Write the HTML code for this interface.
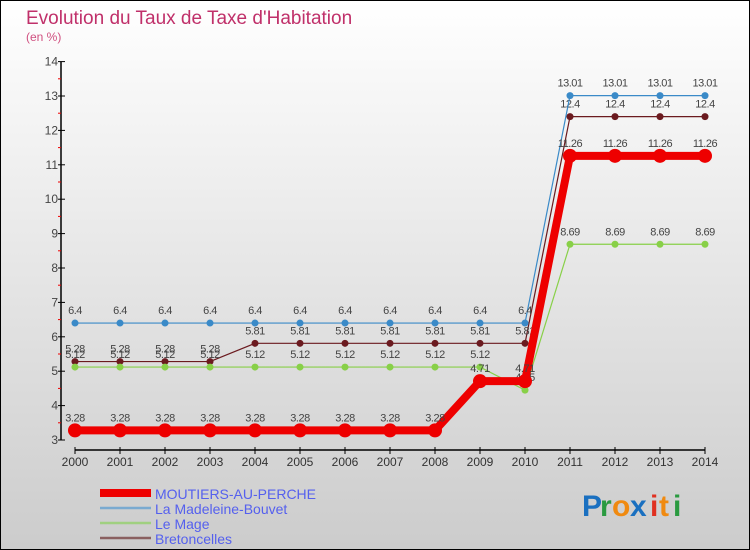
<!DOCTYPE html>
<html><head><meta charset="utf-8"><style>
body{margin:0}
#wrap{width:750px;height:550px;position:relative;overflow:hidden}
svg{display:block}
text{font-family:"Liberation Sans","DejaVu Sans",sans-serif}
</style></head><body>
<div id="wrap">
<svg id="chart" width="750" height="550" xmlns="http://www.w3.org/2000/svg">
<defs><linearGradient id="bg" x1="0" y1="0" x2="0" y2="1">
<stop offset="0" stop-color="#ffffff"/><stop offset="1" stop-color="#cccccc"/></linearGradient></defs>
<rect x="0.5" y="0.5" width="749" height="549" fill="url(#bg)" stroke="#000"/>
<text x="26" y="24" font-size="19" fill="#c0306a">Evolution du Taux de Taxe d'Habitation</text>
<text x="26" y="41" font-size="12" fill="#d05080">(en %)</text>
<g id="axes"></g><g id="series"></g><g id="legend"></g>
<g font-size="30" font-weight="bold" font-family="Liberation Sans,sans-serif">
<text x="582" y="516" fill="#1a70c0">P</text><text x="600" y="516" fill="#2a9a40">r</text><text x="612" y="516" fill="#f08a10">o</text><text x="630" y="516" fill="#1a70c0">x</text><text x="650" y="516" fill="#e03020">i</text><text x="659" y="516" fill="#f08a10">t</text><text x="673" y="516" fill="#2a9a40">i</text></g>
</svg></div>
<script>
const years=[2000,2001,2002,2003,2004,2005,2006,2007,2008,2009,2010,2011,2012,2013,2014];
const moutiers=[3.28,3.28,3.28,3.28,3.28,3.28,3.28,3.28,3.28,4.71,4.71,11.26,11.26,11.26,11.26];
const madeleine=[6.4,6.4,6.4,6.4,6.4,6.4,6.4,6.4,6.4,6.4,6.4,13.01,13.01,13.01,13.01];
const mage=[5.12,5.12,5.12,5.12,5.12,5.12,5.12,5.12,5.12,5.12,4.45,8.69,8.69,8.69,8.69];
const bretoncelles=[5.28,5.28,5.28,5.28,5.81,5.81,5.81,5.81,5.81,5.81,5.81,12.4,12.4,12.4,12.4];
const yTicks=[3,4,5,6,7,8,9,10,11,12,13,14];
const NS="http://www.w3.org/2000/svg";
function x(i){return 75+i*45;}
function y(v){return 440-(v-3)*34.4;}
function mk(tag,attrs,parent){const e=document.createElementNS(NS,tag);for(const k in attrs)e.setAttribute(k,attrs[k]);parent.appendChild(e);return e;}
const axes=document.getElementById('axes');
let l=mk('line',{x1:61,y1:y(14),x2:61,y2:y(3),stroke:'#000','stroke-width':1.5},axes);


yTicks.forEach(v=>{
 mk('line',{x1:58,y1:y(v),x2:65,y2:y(v),stroke:'#000'},axes);
 if(v<14)mk('line',{x1:58,y1:y(v+0.5),x2:61,y2:y(v+0.5),stroke:'#e00'},axes);
 const t=mk('text',{x:58,y:y(v)+4,'font-size':12,fill:'#444','text-anchor':'end'},axes);t.textContent=v;
 
 
});
l=mk('line',{x1:x(0),y1:450,x2:x(14),y2:450,stroke:'#000','stroke-width':1.5},axes);


years.forEach((yr,i)=>{
 mk('line',{x1:x(i),y1:447,x2:x(i),y2:454,stroke:'#000'},axes);
 const t=mk('text',{x:x(i),y:466,'font-size':12,fill:'#333','text-anchor':'middle'},axes);t.textContent=yr;
 
 
});
const series=[
 {name:'Bretoncelles',d:bretoncelles,c:'#6b1a1f',w:1.2,r:3.5,key:'bretoncelles'},
 {name:'Le Mage',d:mage,c:'#88d048',w:1.2,r:3.5,key:'le-mage'},
 {name:'La Madeleine-Bouvet',d:madeleine,c:'#3a8ac8',w:1.2,r:3.5,key:'la-madeleine-bouvet'},
 {name:'MOUTIERS-AU-PERCHE',d:moutiers,c:'#ee0000',w:8,r:7,key:'moutiers-au-perche'}];
const sg=document.getElementById('series');
series.forEach(s=>{
 const g=mk('g',{},sg);
 
 
 mk('polyline',{points:s.d.map((v,i)=>x(i)+','+y(v)).join(' '),fill:'none',stroke:s.c,'stroke-width':s.w,'stroke-linejoin':'round'},g);
 s.d.forEach((v,i)=>{
  const c=mk('circle',{cx:x(i),cy:y(v),r:s.r,fill:s.c},g);
  
  
  const t=mk('text',{x:x(i),y:y(v)-9,'font-size':11,fill:'#444','text-anchor':'middle','letter-spacing':'-0.5'},g);t.textContent=v;
  
  
 });
});
const lg=document.getElementById('legend');
const leg=[['MOUTIERS-AU-PERCHE','#ee0000',8],['La Madeleine-Bouvet','#7aaad0',2.5],['Le Mage','#a0d080',2.5],['Bretoncelles','#8a6060',2.5]];
leg.forEach((e,i)=>{
 const yy=493+i*15;
 const g=mk('g',{},lg);
 
 
 mk('line',{x1:100,y1:yy,x2:151,y2:yy,stroke:e[1],'stroke-width':e[2]},g);
 const t=mk('text',{x:155,y:yy+6,'font-size':14,fill:'#5560ee'},g);t.textContent=e[0];
});
</script>
</body></html>
